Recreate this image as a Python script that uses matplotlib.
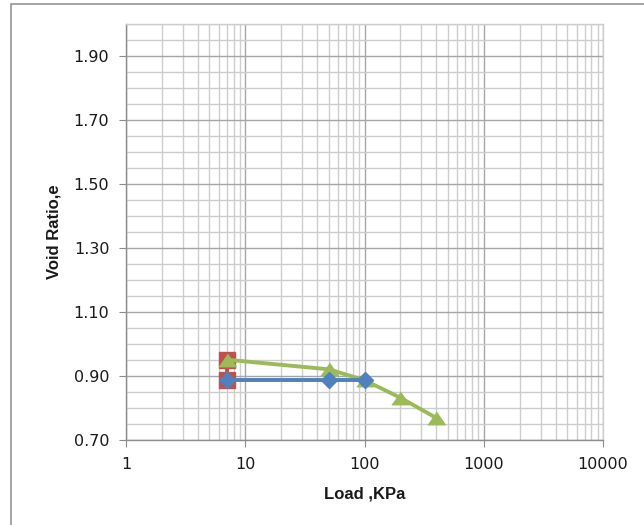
"""
Consolidation curve: void ratio against load (log scale), Excel-style look.
"""

import matplotlib
matplotlib.use("Agg")
import matplotlib.pyplot as plt
from matplotlib.patches import Rectangle
from matplotlib.ticker import FixedLocator, NullFormatter

# ── data ───────────────────────────────────────────────────────────────────
load_loading = [7, 50, 100]
e_loading = [0.887, 0.887, 0.887]

load_initial = [7, 7]
e_initial = [0.887, 0.951]

load_reload = [7, 50, 100, 200, 400]
e_reload = [0.951, 0.921, 0.887, 0.832, 0.769]

x_ticks = [1, 10, 100, 1000, 10000]
x_labels = ["1", "10", "100", "1000", "10000"]
y_ticks = [0.70, 0.90, 1.10, 1.30, 1.50, 1.70, 1.90]
y_minor = [0.70 + 0.05 * i for i in range(27)]

BLUE = "#4F81BD"
RED = "#C0504D"
GREEN = "#9BBB59"
GRID_MAJOR = "#A6A6A6"
GRID_MINOR = "#CDCDCD"

plt.rcParams["font.family"] = ["DejaVu Sans"]

W, H = 644, 525
fig = plt.figure(figsize=(W / 100, H / 100), dpi=100)
fig.patch.set_facecolor("white")

# chart-area frame (only left and top edges are inside the picture)
fig.patches.append(Rectangle((11 / W, -0.1), 1.2, 1.1 - 4 / H,
                             transform=fig.transFigure, fill=False,
                             edgecolor="#8C8C8C", linewidth=1.1))

ax = fig.add_axes([126 / W, 1 - 440 / H, (603 - 126) / W, (440 - 24) / H])

ax.set_xscale("log")
ax.set_xlim(1, 10000)
ax.set_ylim(0.70, 2.00)

# grid
ax.xaxis.set_major_locator(FixedLocator(x_ticks))
ax.xaxis.set_minor_locator(FixedLocator(
    [m * 10 ** d for d in range(4) for m in range(2, 10)]))
ax.xaxis.set_minor_formatter(NullFormatter())
ax.set_xticks(x_ticks)
ax.set_xticklabels(x_labels)
ax.yaxis.set_major_locator(FixedLocator(y_ticks))
ax.yaxis.set_minor_locator(FixedLocator(y_minor))
ax.set_yticklabels([f"{v:.2f}" for v in y_ticks])

ax.grid(which="minor", color=GRID_MINOR, linewidth=1.0)
ax.grid(which="major", color=GRID_MAJOR, linewidth=1.0)
ax.set_axisbelow(True)

for side in ["top", "right"]:
    ax.spines[side].set_color(GRID_MINOR)
    ax.spines[side].set_linewidth(1.0)
for side in ["left", "bottom"]:
    ax.spines[side].set_color("#8C8C8C")
    ax.spines[side].set_linewidth(1.0)

ax.tick_params(which="major", direction="out", length=5, width=0.8,
               color="#8C8C8C", labelsize=11.5, labelcolor="#1A1A1A", pad=7)
ax.tick_params(which="minor", length=0)

# series
tri = [(-1, -0.72), (1, -0.72), (0, 0.72)]
ax.plot(load_initial, e_initial, color=RED, linewidth=2.8,
        marker="s", markersize=11.5, markeredgecolor=RED, zorder=3)
ax.plot(load_reload, e_reload, color=GREEN, linewidth=2.8,
        marker=tri, markersize=12.5, markeredgecolor=GREEN, zorder=4)
ax.plot(load_loading, e_loading, color=BLUE, linewidth=2.8,
        marker="D", markersize=7.8, markeredgecolor=BLUE, zorder=5)

label_font = dict(family=["Liberation Sans", "DejaVu Sans"], fontsize=12,
                  fontweight="bold", color="#1A1A1A")
ax.set_xlabel("Load ,KPa", labelpad=11, **label_font)
ax.set_ylabel("Void Ratio,e", labelpad=9, **label_font)

fig.savefig("out.png", dpi=100, facecolor="white")
